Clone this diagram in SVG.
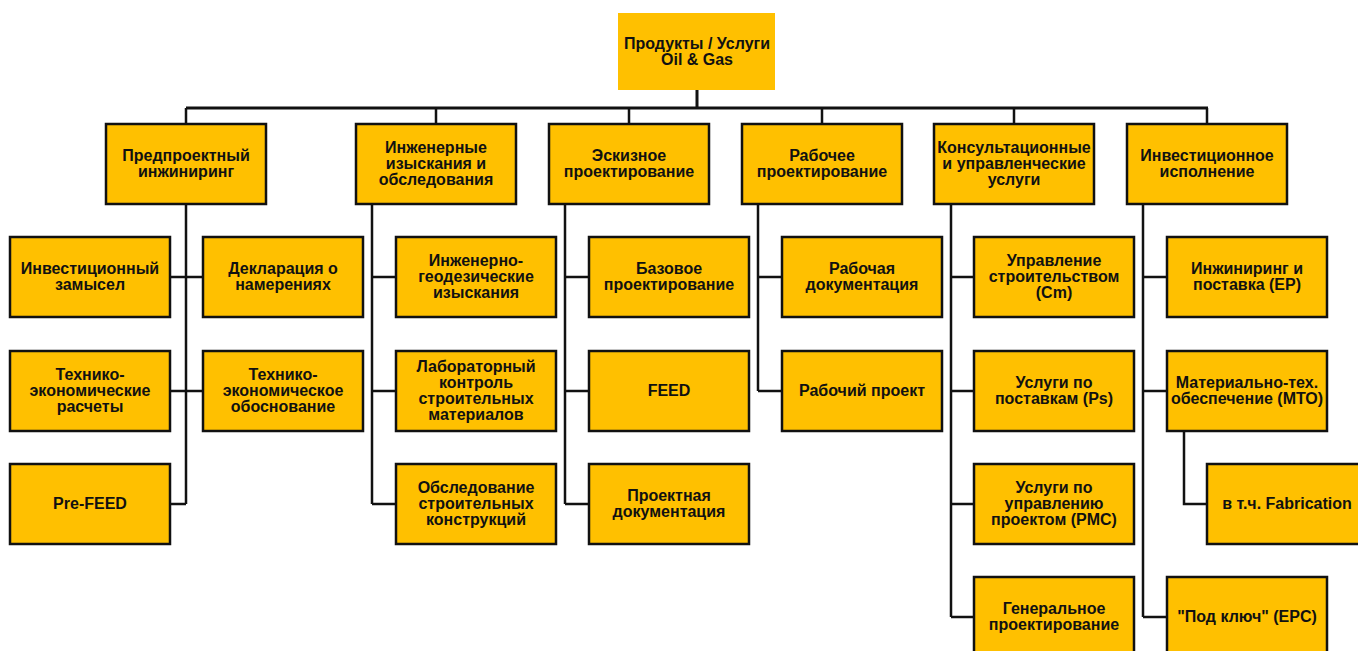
<svg xmlns="http://www.w3.org/2000/svg" width="1358" height="651" viewBox="0 0 1358 651">
<style>
.b{fill:#FFC000;stroke:#111;stroke-width:2.5}
.t{font-family:"Liberation Sans",Arial,sans-serif;font-weight:bold;font-size:16px;fill:#111;text-anchor:middle}
.c{fill:none;stroke:#111;stroke-width:2.5}
</style>
<rect width="1358" height="651" fill="#fff"/>
<g id="connectors">
<path class="c" style="stroke-width:3" d="M697,90 V108 M186,108 H1208"/>
<path class="c" d="M186,108 V124 M436,108 V124 M629,108 V124 M822,108 V124 M1014,108 V124 M1207,108 V124"/>
<path class="c" d="M186,204 V504 M170,277 H203 M170,391 H203 M170,504 H186"/>
<path class="c" d="M372,204 V504 M372,277 H396 M372,391 H396 M372,504 H396"/>
<path class="c" d="M565,204 V504 M565,277 H589 M565,391 H589 M565,504 H589"/>
<path class="c" d="M758,204 V391 M758,277 H782 M758,391 H782"/>
<path class="c" d="M951,204 V617 M951,277 H974 M951,391 H974 M951,504 H974 M951,617 H974"/>
<path class="c" d="M1143,204 V617 M1143,277 H1167 M1143,391 H1167 M1143,617 H1167 M1184,431 V504 H1207"/>
</g>
<g id="root">
<rect x="618" y="13" width="157" height="77" fill="#FFC000"/>
<text class="t" x="697" y="49">Продукты / Услуги<tspan x="697" dy="16">Oil &amp; Gas</tspan></text>
</g>
<g id="n1">
<rect class="b" x="106" y="124" width="160" height="80"/>
<text class="t" x="186" y="161">Предпроектный<tspan x="186" dy="16">инжиниринг</tspan></text>
</g>
<g id="n1a">
<rect class="b" x="10" y="237" width="160" height="80"/>
<text class="t" x="90" y="274">Инвестиционный<tspan x="90" dy="16">замысел</tspan></text>
</g>
<g id="n1b">
<rect class="b" x="203" y="237" width="160" height="80"/>
<text class="t" x="283" y="274">Декларация о<tspan x="283" dy="16">намерениях</tspan></text>
</g>
<g id="n1c">
<rect class="b" x="10" y="351" width="160" height="80"/>
<text class="t" x="90" y="380">Технико-<tspan x="90" dy="16">экономические</tspan><tspan x="90" dy="16">расчеты</tspan></text>
</g>
<g id="n1d">
<rect class="b" x="203" y="351" width="160" height="80"/>
<text class="t" x="283" y="380">Технико-<tspan x="283" dy="16">экономическое</tspan><tspan x="283" dy="16">обоснование</tspan></text>
</g>
<g id="n1e">
<rect class="b" x="10" y="464" width="160" height="80"/>
<text class="t" x="90" y="509">Pre-FEED</text>
</g>
<g id="n2">
<rect class="b" x="356" y="124" width="160" height="80"/>
<text class="t" x="436" y="153">Инженерные<tspan x="436" dy="16">изыскания и</tspan><tspan x="436" dy="16">обследования</tspan></text>
</g>
<g id="n2a">
<rect class="b" x="396" y="237" width="160" height="80"/>
<text class="t" x="476" y="266">Инженерно-<tspan x="476" dy="16">геодезические</tspan><tspan x="476" dy="16">изыскания</tspan></text>
</g>
<g id="n2b">
<rect class="b" x="396" y="351" width="160" height="80"/>
<text class="t" x="476" y="372">Лабораторный<tspan x="476" dy="16">контроль</tspan><tspan x="476" dy="16">строительных</tspan><tspan x="476" dy="16">материалов</tspan></text>
</g>
<g id="n2c">
<rect class="b" x="396" y="464" width="160" height="80"/>
<text class="t" x="476" y="493">Обследование<tspan x="476" dy="16">строительных</tspan><tspan x="476" dy="16">конструкций</tspan></text>
</g>
<g id="n3">
<rect class="b" x="549" y="124" width="160" height="80"/>
<text class="t" x="629" y="161">Эскизное<tspan x="629" dy="16">проектирование</tspan></text>
</g>
<g id="n3a">
<rect class="b" x="589" y="237" width="160" height="80"/>
<text class="t" x="669" y="274">Базовое<tspan x="669" dy="16">проектирование</tspan></text>
</g>
<g id="n3b">
<rect class="b" x="589" y="351" width="160" height="80"/>
<text class="t" x="669" y="396">FEED</text>
</g>
<g id="n3c">
<rect class="b" x="589" y="464" width="160" height="80"/>
<text class="t" x="669" y="501">Проектная<tspan x="669" dy="16">документация</tspan></text>
</g>
<g id="n4">
<rect class="b" x="742" y="124" width="160" height="80"/>
<text class="t" x="822" y="161">Рабочее<tspan x="822" dy="16">проектирование</tspan></text>
</g>
<g id="n4a">
<rect class="b" x="782" y="237" width="160" height="80"/>
<text class="t" x="862" y="274">Рабочая<tspan x="862" dy="16">документация</tspan></text>
</g>
<g id="n4b">
<rect class="b" x="782" y="351" width="160" height="80"/>
<text class="t" x="862" y="396">Рабочий проект</text>
</g>
<g id="n5">
<rect class="b" x="934" y="124" width="160" height="80"/>
<text class="t" x="1014" y="153">Консультационные<tspan x="1014" dy="16">и управленческие</tspan><tspan x="1014" dy="16">услуги</tspan></text>
</g>
<g id="n5a">
<rect class="b" x="974" y="237" width="160" height="80"/>
<text class="t" x="1054" y="266">Управление<tspan x="1054" dy="16">строительством</tspan><tspan x="1054" dy="16">(Cm)</tspan></text>
</g>
<g id="n5b">
<rect class="b" x="974" y="351" width="160" height="80"/>
<text class="t" x="1054" y="388">Услуги по<tspan x="1054" dy="16">поставкам (Ps)</tspan></text>
</g>
<g id="n5c">
<rect class="b" x="974" y="464" width="160" height="80"/>
<text class="t" x="1054" y="493">Услуги по<tspan x="1054" dy="16">управлению</tspan><tspan x="1054" dy="16">проектом (PMC)</tspan></text>
</g>
<g id="n5d">
<rect class="b" x="974" y="577" width="160" height="80"/>
<text class="t" x="1054" y="614">Генеральное<tspan x="1054" dy="16">проектирование</tspan></text>
</g>
<g id="n6">
<rect class="b" x="1127" y="124" width="160" height="80"/>
<text class="t" x="1207" y="161">Инвестиционное<tspan x="1207" dy="16">исполнение</tspan></text>
</g>
<g id="n6a">
<rect class="b" x="1167" y="237" width="160" height="80"/>
<text class="t" x="1247" y="274">Инжиниринг и<tspan x="1247" dy="16">поставка (EP)</tspan></text>
</g>
<g id="n6b">
<rect class="b" x="1167" y="351" width="160" height="80"/>
<text class="t" x="1247" y="388">Материально-тех.<tspan x="1247" dy="16">обеспечение (МТО)</tspan></text>
</g>
<g id="n6b1">
<rect class="b" x="1207" y="464" width="160" height="80"/>
<text class="t" x="1287" y="509">в т.ч. Fabrication</text>
</g>
<g id="n6c">
<rect class="b" x="1167" y="577" width="160" height="80"/>
<text class="t" x="1247" y="622">"Под ключ" (EPC)</text>
</g>
</svg>
